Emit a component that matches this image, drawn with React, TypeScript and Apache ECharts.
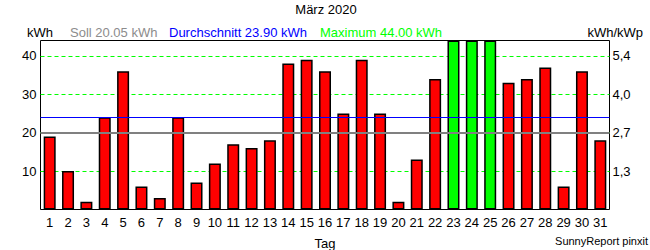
import React, { useEffect, useRef } from "react";
import * as echarts from "echarts";

const chartTitle = "März 2020";
const days = [
  "1", "2", "3", "4", "5", "6", "7", "8", "9", "10",
  "11", "12", "13", "14", "15", "16", "17", "18", "19", "20",
  "21", "22", "23", "24", "25", "26", "27", "28", "29", "30", "31",
];
const dailyKWh = [
  19, 10, 2, 24, 36, 6, 3, 24, 7, 12,
  17, 16, 18, 38, 39, 36, 25, 39, 25, 2,
  13, 34, 44, 44, 44, 33, 34, 37, 6, 36, 18,
];
const sollKWh = 20.05;
const averageKWh = 23.9;
const maximumKWh = 44.0;
const leftTickValues = [10, 20, 30, 40];
const rightTickLabels = ["1,3", "2,7", "4,0", "5,4"];

const FONT = "'Liberation Sans', Arial, Helvetica, sans-serif";

export default function App() {
  const ref = useRef<HTMLDivElement>(null);

  useEffect(() => {
    document.body.style.margin = "0";
    if (!ref.current) return;
    const chart = echarts.init(ref.current, undefined, { renderer: "svg" });

    const option: any = {
      animation: false,
      backgroundColor: "#ffffff",
      textStyle: { fontFamily: FONT },
      grid: {
        left: 40.5,
        right: 40.5,
        top: 40.5,
        bottom: 40.5,
        show: true,
        borderColor: "#000000",
        borderWidth: 1,
        backgroundColor: "transparent",
        containLabel: false,
        outerBoundsMode: "none",
      },
      xAxis: {
        type: "category",
        data: days,
        axisLine: { show: false },
        axisTick: { show: false },
        axisLabel: {
          interval: 0,
          margin: 6,
          color: "#000000",
          fontSize: 13,
          fontFamily: FONT,
        },
        name: "Tag",
        nameLocation: "middle",
        nameGap: 27,
        nameTextStyle: { color: "#000000", fontSize: 13, fontFamily: FONT },
      },
      yAxis: [
        {
          type: "value",
          min: 0,
          max: maximumKWh,
          interval: 10,
          axisLine: { show: false },
          axisTick: { show: false },
          splitLine: {
            show: true,
            showMinLine: false,
            showMaxLine: false,
            lineStyle: { color: "#00ff00", width: 1, type: [4, 3], opacity: 1 },
          },
          axisLabel: {
            margin: 4,
            color: "#000000",
            fontSize: 13,
            fontFamily: FONT,
            formatter: (v: number) => (leftTickValues.includes(v) ? String(v) : ""),
          },
        },
        {
          type: "value",
          position: "right",
          min: 0,
          max: maximumKWh,
          interval: 10,
          axisLine: { show: false },
          axisTick: { show: false },
          splitLine: { show: false },
          axisLabel: {
            margin: 3,
            color: "#000000",
            fontSize: 13,
            fontFamily: FONT,
            formatter: (v: number) => {
              const i = leftTickValues.indexOf(v);
              return i >= 0 ? rightTickLabels[i] : "";
            },
          },
        },
      ],
      series: [
        {
          type: "bar",
          data: dailyKWh.map((v) => ({
            value: v,
            itemStyle: { color: v >= maximumKWh ? "#00ff00" : "#ff0000" },
          })),
          barWidth: 12,
          itemStyle: { borderColor: "#000000", borderWidth: 1.5 },
          markLine: {
            silent: true,
            symbol: ["none", "none"],
            label: { show: false },
            lineStyle: { color: "#808080", width: 2, type: "solid", opacity: 1 },
            data: [{ yAxis: sollKWh }],
          },
        },
        {
          type: "line",
          data: [],
          markLine: {
            silent: true,
            symbol: ["none", "none"],
            label: { show: false },
            lineStyle: { color: "#0000ff", width: 1, type: "solid", opacity: 1 },
            data: [{ yAxis: averageKWh }],
          },
        },
      ],
      graphic: [
        {
          type: "text",
          x: 326,
          y: 9,
          style: {
            text: chartTitle,
            fill: "#000000",
            font: `13px ${FONT}`,
            textAlign: "center",
            textVerticalAlign: "middle",
          },
        },
        {
          type: "text",
          x: 27,
          y: 32,
          style: { text: "kWh", fill: "#000000", font: `13px ${FONT}`, textVerticalAlign: "middle" },
        },
        {
          type: "text",
          x: 70,
          y: 32,
          style: {
            text: `Soll ${sollKWh.toFixed(2)} kWh`,
            fill: "#8c8c8c",
            font: `13px ${FONT}`,
            textVerticalAlign: "middle",
          },
        },
        {
          type: "text",
          x: 169,
          y: 32,
          style: {
            text: `Durchschnitt ${averageKWh.toFixed(2)} kWh`,
            fill: "#0000ff",
            font: `13px ${FONT}`,
            textVerticalAlign: "middle",
          },
        },
        {
          type: "text",
          x: 320,
          y: 32,
          style: {
            text: `Maximum ${maximumKWh.toFixed(2)} kWh`,
            fill: "#00ff00",
            font: `13px ${FONT}`,
            textVerticalAlign: "middle",
          },
        },
        {
          type: "text",
          x: 643,
          y: 32,
          style: {
            text: "kWh/kWp",
            fill: "#000000",
            font: `13px ${FONT}`,
            textAlign: "right",
            textVerticalAlign: "middle",
          },
        },
        {
          type: "text",
          x: 648,
          y: 241,
          style: {
            text: "SunnyReport pinxit",
            fill: "#000000",
            font: `11px ${FONT}`,
            textAlign: "right",
            textVerticalAlign: "middle",
          },
        },
      ],
    };

    chart.setOption(option);
    return () => chart.dispose();
  }, []);

  return <div ref={ref} style={{ width: 650, height: 250 }} />;
}
